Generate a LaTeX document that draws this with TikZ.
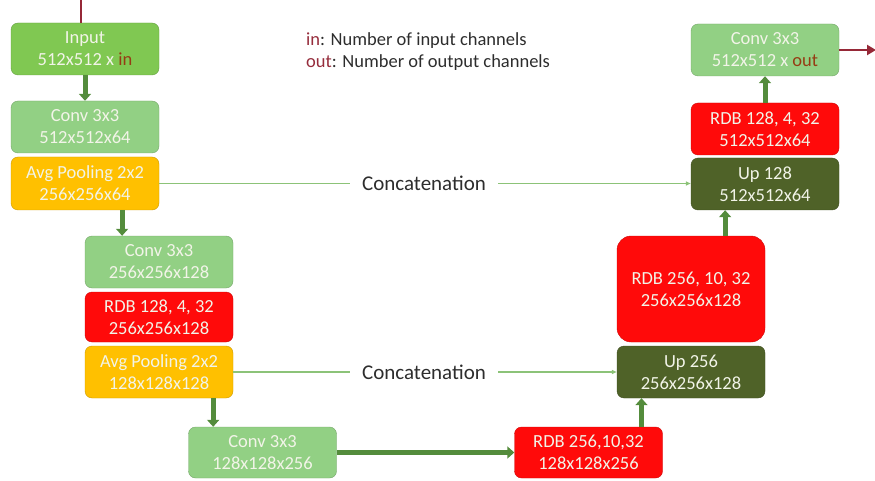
\documentclass[tikz,border=0pt]{standalone}
\usepackage{fontspec}
\setmainfont{Carlito}
\usetikzlibrary{calc,arrows.meta,positioning}

\definecolor{inputgreen}{RGB}{128,200,82}
\definecolor{convgreen}{RGB}{146,208,132}
\definecolor{poolyellow}{RGB}{255,192,0}
\definecolor{rdbred}{RGB}{255,10,10}
\definecolor{updark}{RGB}{79,98,40}
\definecolor{boxtext}{RGB}{242,244,232}
\definecolor{flowgreen}{RGB}{84,140,60}
\definecolor{catgreen}{RGB}{140,195,120}
\definecolor{inbrown}{RGB}{150,60,20}
\definecolor{inred}{RGB}{150,45,60}
\definecolor{wirered}{RGB}{150,40,55}
\definecolor{legendgray}{RGB}{45,45,45}

\tikzset{
  box/.style={rounded corners=7pt, draw=#1!80!black, fill=#1, text=boxtext,
    align=center, minimum width=148pt, minimum height=52pt, inner sep=0pt,
    font=\fontsize{18.5}{22}\selectfont},
  flow/.style={draw=flowgreen, line width=5pt, -{Triangle[length=7pt,width=12pt]}},
  concat/.style={draw=catgreen, line width=1.3pt},
  catlabel/.style={text=legendgray, inner xsep=12pt, font=\fontsize{21}{24}\selectfont},
  legend/.style={text=legendgray, anchor=west, inner sep=0pt, font=\fontsize{18.5}{22}\selectfont},
}

\begin{document}
\begin{tikzpicture}[x=1pt,y=-1pt]
  \useasboundingbox (0,0) rectangle (875,481);

  % encoder
  \node[box=inputgreen] (input) at (85,49) {Input\\512x512 x \textcolor{inbrown}{in}};
  \node[box=convgreen] (conva) at (85,127) {Conv 3x3\\512x512x64};
  \node[box=poolyellow, minimum height=53pt] (poola) at (85,183.5) {Avg Pooling 2x2\\256x256x64};
  \node[box=convgreen] (convb) at (159,262) {Conv 3x3\\256x256x128};
  \node[box=rdbred, minimum height=50pt] (rdba) at (159,317) {RDB 128, 4, 32\\256x256x128};
  \node[box=poolyellow] (poolb) at (159,372) {Avg Pooling 2x2\\128x128x128};
  \node[box=convgreen, minimum height=51pt] (convc) at (262.5,452.5) {Conv 3x3\\128x128x256};

  % decoder
  \node[box=rdbred, minimum height=51pt] (rdbc) at (588.5,452.5) {RDB 256,10,32\\128x128x256};
  \node[box=updark] (upb) at (691,372) {Up 256\\256x256x128};
  \node[box=rdbred, minimum height=106pt, rounded corners=14pt] (rdbb) at (691,289) {RDB 256, 10, 32\\256x256x128};
  \node[box=updark] (upa) at (765,184) {Up 128\\512x512x64};
  \node[box=rdbred] (rdbd) at (765,129) {RDB 128, 4, 32\\512x512x64};
  \node[box=convgreen] (convd) at (765,50) {Conv 3x3\\512x512 x \textcolor{inbrown}{out}};

  % legend
  \node[legend] (legin) at (306,41) {\textcolor{inred}{in}: Number of input channels};
  \node[legend] (legout) at (306,63) {\textcolor{inred}{out}: Number of output channels};

  % skip connections
  \node[catlabel] (cata) at (424,183.5) {Concatenation};
  \node[catlabel] (catb) at (424,372) {Concatenation};
  \draw[concat] (poola.east) -- (poola.east -| cata.west);
  \draw[concat, -{Triangle[length=5pt,width=4pt]}] (cata.east |- poola.east) -- (poola.east -| upa.west);
  \draw[concat] (poolb.east) -- (poolb.east -| catb.west);
  \draw[concat, -{Triangle[length=5pt,width=4pt]}] (catb.east |- poolb.east) -- (poolb.east -| upb.west);

  % main path
  \coordinate (src) at (81,0);
  \coordinate (sink) at (876,50);
  \draw[wirered, line width=1.5pt] (src) -- (src |- input.north);
  \draw[flow] (input) -- (conva);
  \coordinate (p1) at ($(poola.south west)!0.75!(poola.south east)$);
  \draw[flow] (p1) -- (p1 |- convb.north);
  \coordinate (p2) at ($(poolb.south west)!0.865!(poolb.south east)$);
  \draw[flow] (p2) -- (p2 |- convc.north);
  \draw[flow] (convc) -- (rdbc);
  \coordinate (p3) at ($(rdbc.north west)!0.857!(rdbc.north east)$);
  \draw[flow] (p3) -- (p3 |- upb.south);
  \coordinate (p4) at ($(rdbb.north west)!0.73!(rdbb.north east)$);
  \draw[flow] (p4) -- (p4 |- upa.south);
  \draw[flow] (rdbd) -- (convd);
  \draw[wirered, line width=2pt, -{Triangle[length=9pt,width=10pt]}] (convd.east) -- (sink);
\end{tikzpicture}
\end{document}
